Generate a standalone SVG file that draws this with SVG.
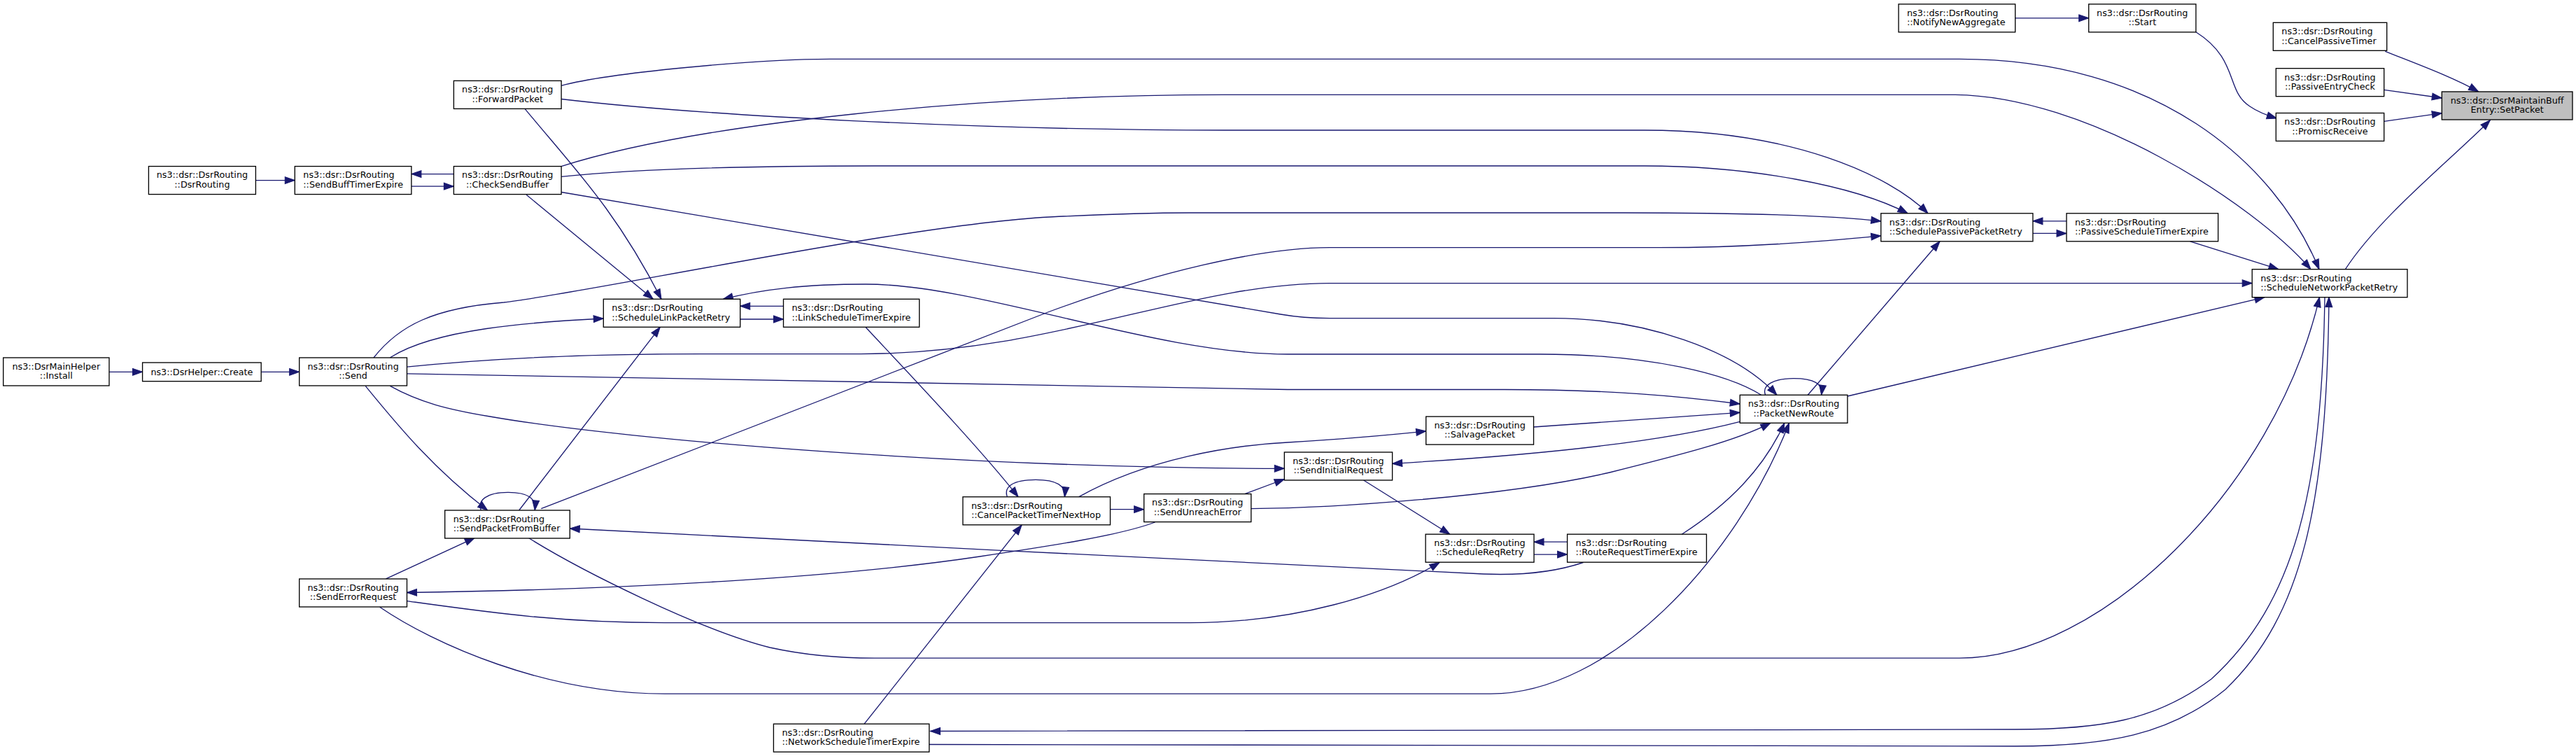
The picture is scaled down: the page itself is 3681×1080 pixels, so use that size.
<svg xmlns="http://www.w3.org/2000/svg" width="3681" height="1080" viewBox="0 0 3681 1080">
<style>
.node rect{fill:#ffffff;stroke:#000000;stroke-width:1.33}
.node.target rect{fill:#bfbfbf}
.node text{font-family:"DejaVu Sans","Liberation Sans",sans-serif;font-size:12.75px;fill:#000000}
.node text.c{text-anchor:middle}
.edge{fill:none;stroke:#191970;stroke-width:1.33;marker-end:url(#ah)}
</style>
<defs>
<marker id="ah" markerUnits="userSpaceOnUse" markerWidth="14" markerHeight="10" refX="13.3" refY="4.67" orient="auto" viewBox="0 0 13.3 9.34" overflow="visible">
<path d="M0,0 L13.3,4.67 L0,9.34 z" fill="#191970" stroke="#191970" stroke-width="1"/>
</marker>
</defs>
<rect x="0" y="0" width="3681" height="1080" fill="#ffffff"/>
<g id="edges">
<path class="edge" d="M3408.3,73.3 C3450,90 3505,110 3541.7,131"/>
<path class="edge" d="M3406.7,128.3 L3489.3,140"/>
<path class="edge" d="M3406.7,173.3 L3489.3,161.7"/>
<path class="edge" d="M3351.4,384.7 C3400,310 3500,230 3558.3,171.7"/>
<path class="edge" d="M3137.9,45.8 C3200,85 3180,130 3215,152 C3228,161 3240,165 3253.3,169"/>
<path class="edge" d="M2879.7,25.8 L2984.7,25.8"/>
<path class="edge" d="M3129.6,344.8 L3256,384.7"/>
<path class="edge" d="M2904.9,333.4 L2953,333.4"/>
<path class="edge" d="M2953,315.8 L2904.9,315.8"/>
<path class="edge" d="M802.1,122.3 C870,104 1080,84.4 1186,84.4 L2800,84.4 C3080,84.4 3250,230 3314,384.7"/>
<path class="edge" d="M802.1,237.6 C1000,175 1400,135.3 1750,135.3 L2790,135.3 C2980,135.3 3220,290 3302,384.7"/>
<path class="edge" d="M802.1,141.5 C1000,165 1400,186 1750,186 L2350,186 C2560,186 2700,250 2755,304.8"/>
<path class="edge" d="M802.1,252.4 C900,242 1050,237 1250,237 L2350,237 C2500,237 2650,265 2726,304.8"/>
<path class="edge" d="M802.1,274.5 L1830,449 C1850,452.5 1870,454.6 1900,454.6 L2220,454.6 C2350,454.6 2480,500 2539,564.3"/>
<path class="edge" d="M750,155.3 C820,240 880,300 945,427.3"/>
<path class="edge" d="M752.2,278.3 L933.3,427.3"/>
<path class="edge" d="M365.5,257.6 L421.3,257.6"/>
<path class="edge" d="M648.4,248.6 L587.9,248.6"/>
<path class="edge" d="M587.9,266.2 L648.4,266.2"/>
<path class="edge" d="M156,531.3 L203.6,531.3"/>
<path class="edge" d="M373.2,531.3 L427.7,531.3"/>
<path class="edge" d="M557.4,511 C620,470 760,460 862.3,455"/>
<path class="edge" d="M534,511 C570,465 620,440 720,432 C830,420 1300,320 1500,310 C1600,305 1650,304 1700,304 L2320,304 C2500,304 2620,308 2687.8,316"/>
<path class="edge" d="M581.5,524.2 C700,512 850,505.6 1000,505.6 L1230,505.6 C1500,505.6 1700,404.6 1900,404.6 L3218.2,404.6"/>
<path class="edge" d="M581.5,533.8 C700,538 1000,545 1840,556.5 L2150,556.5 C2300,556.5 2400,566 2486.3,577"/>
<path class="edge" d="M557.4,551.4 C600,575 640,585 700,595 C900,630 1400,669 1835.3,669.3"/>
<path class="edge" d="M522.2,551.4 C570,610 620,670 696.7,729"/>
<path class="edge" d="M687.3,729 C682,715 695,703.3 726,703.3 C755,703.3 766,712 764.3,729"/>
<path class="edge" d="M741.7,729 L943.3,467.3"/>
<path class="edge" d="M773.3,726.7 L1500,445 C1650,390 1800,353.7 1900,353.7 L2370,353.7 C2500,353.7 2600,345 2687.8,336.8"/>
<path class="edge" d="M755,768.3 C830,815 1000,900 1100,925 C1150,936 1200,940.2 1250,940.2 L2800,940.2 C3000,940.2 3250,700 3314.5,424.6"/>
<path class="edge" d="M2262.5,803.5 C2220,818 2170,822 2120,820 C2000,815 1100,770 814.3,755"/>
<path class="edge" d="M551.5,826.9 L678.3,768.3"/>
<path class="edge" d="M1650.5,746 C1600,765 1500,780 1400,795 C1200,825 900,842 581.5,846.5"/>
<path class="edge" d="M581.5,858.6 C700,875 800,889.6 950,889.6 L1700,889.6 C1850,889.6 1980,850 2057,803.5"/>
<path class="edge" d="M542.7,867.2 C620,920 780,991.2 950,991.2 L2130,991.2 C2300,991.2 2480,800 2556.7,604.3"/>
<path class="edge" d="M2403.3,763.2 C2470,720 2520,670 2550,604.3"/>
<path class="edge" d="M1057.7,456 L1119.5,456"/>
<path class="edge" d="M1119.5,437.3 L1057.7,437.3"/>
<path class="edge" d="M1236.8,467.3 C1300,535 1400,640 1455,709.8"/>
<path class="edge" d="M2516.7,564.3 C2470,535 2360,506 2200,506 L1840,506 C1650,506 1400,406 1237,406 C1150,406 1090,413 1033.3,427.3"/>
<path class="edge" d="M1439.3,709.8 C1434,695 1448,685.3 1480,685.3 C1510,685.3 1523,694 1521.4,709.8"/>
<path class="edge" d="M1235,1034.2 L1460,750.1"/>
<path class="edge" d="M1586.5,727.7 L1634.7,727.7"/>
<path class="edge" d="M1541.4,709.8 C1640,655 1760,636 1840,632 C1940,626 2000,620 2037.7,616"/>
<path class="edge" d="M1778.7,705.6 L1835.3,684.5"/>
<path class="edge" d="M1787.8,726.6 C1900,726 2150,710 2300,675 C2400,650 2480,630 2530,604.3"/>
<path class="edge" d="M2191.5,610 L2486.3,589.3"/>
<path class="edge" d="M2486.3,602.3 C2380,630 2200,650 1989.6,662.3"/>
<path class="edge" d="M1948.5,686 L2071.8,763.2"/>
<path class="edge" d="M2192,792.1 L2239.6,792.1"/>
<path class="edge" d="M2239.6,774.2 L2192,774.2"/>
<path class="edge" d="M2522.7,564.3 C2517,550 2535,540.7 2563,540.7 C2592,540.7 2605,548 2602.7,564.3"/>
<path class="edge" d="M2583.3,564.3 L2772,344.8"/>
<path class="edge" d="M2640,566 L3236,424.6"/>
<path class="edge" d="M3322,424.6 C3318,700 3280,860 3160,970 C3080,1030 3000,1042 2880,1042 L1329.5,1044.5"/>
<path class="edge" d="M1327.8,1063.5 L2880,1066 C3010,1066 3100,1050 3180,985 C3290,880 3325,720 3328,424.6"/>
</g>
<g id="n_install" class="node"><rect x="4.7" y="511" width="151.3" height="40"/><text class="c" x="80.35" y="527.8">ns3::DsrMainHelper</text><text class="c" x="80.35" y="541.2">::Install</text></g>
<g id="n_create" class="node"><rect x="203.6" y="518" width="169.6" height="26.7"/><text class="c" x="288.4" y="535.8">ns3::DsrHelper::Create</text></g>
<g id="n_dsrrouting" class="node"><rect x="212.4" y="237.6" width="153" height="40"/><text class="c" x="288.9" y="254.4">ns3::dsr::DsrRouting</text><text class="c" x="288.9" y="267.8">::DsrRouting</text></g>
<g id="n_sendbufftimerexpire" class="node"><rect x="421.3" y="237.6" width="166.6" height="40"/><text x="433.3" y="254.4">ns3::dsr::DsrRouting</text><text x="433.3" y="267.8">::SendBuffTimerExpire</text></g>
<g id="n_send" class="node"><rect x="427.7" y="511" width="153.8" height="40"/><text class="c" x="504.6" y="527.8">ns3::dsr::DsrRouting</text><text class="c" x="504.6" y="541.2">::Send</text></g>
<g id="n_senderrorrequest" class="node"><rect x="427.7" y="827" width="153.8" height="40"/><text class="c" x="504.6" y="843.8">ns3::dsr::DsrRouting</text><text class="c" x="504.6" y="857.2">::SendErrorRequest</text></g>
<g id="n_forwardpacket" class="node"><rect x="648.4" y="115.4" width="153.7" height="40"/><text class="c" x="725.25" y="132.2">ns3::dsr::DsrRouting</text><text class="c" x="725.25" y="145.6">::ForwardPacket</text></g>
<g id="n_checksendbuffer" class="node"><rect x="648.4" y="237.6" width="153.7" height="40"/><text class="c" x="725.25" y="254.4">ns3::dsr::DsrRouting</text><text class="c" x="725.25" y="267.8">::CheckSendBuffer</text></g>
<g id="n_sendpacketfrombuffer" class="node"><rect x="635.7" y="729" width="178.6" height="40"/><text x="647.7" y="745.8">ns3::dsr::DsrRouting</text><text x="647.7" y="759.2">::SendPacketFromBuffer</text></g>
<g id="n_schedulelinkpacketretry" class="node"><rect x="862.3" y="427.3" width="195.4" height="40"/><text x="874.3" y="444.1">ns3::dsr::DsrRouting</text><text x="874.3" y="457.5">::ScheduleLinkPacketRetry</text></g>
<g id="n_linkscheduletimerexpire" class="node"><rect x="1119.5" y="427.3" width="194.2" height="40"/><text x="1131.5" y="444.1">ns3::dsr::DsrRouting</text><text x="1131.5" y="457.5">::LinkScheduleTimerExpire</text></g>
<g id="n_networkscheduletimerexpire" class="node"><rect x="1105.4" y="1034.2" width="222.4" height="40"/><text x="1117.4" y="1051">ns3::dsr::DsrRouting</text><text x="1117.4" y="1064.4">::NetworkScheduleTimerExpire</text></g>
<g id="n_cancelpackettimernexthop" class="node"><rect x="1375.9" y="709.8" width="210.6" height="40"/><text x="1387.9" y="726.6">ns3::dsr::DsrRouting</text><text x="1387.9" y="740">::CancelPacketTimerNextHop</text></g>
<g id="n_sendunreacherror" class="node"><rect x="1634.7" y="705.6" width="153.1" height="40"/><text class="c" x="1711.25" y="722.4">ns3::dsr::DsrRouting</text><text class="c" x="1711.25" y="735.8">::SendUnreachError</text></g>
<g id="n_sendinitialrequest" class="node"><rect x="1835.3" y="646" width="154.3" height="40"/><text class="c" x="1912.45" y="662.8">ns3::dsr::DsrRouting</text><text class="c" x="1912.45" y="676.2">::SendInitialRequest</text></g>
<g id="n_salvagepacket" class="node"><rect x="2037.7" y="595.1" width="153.8" height="40"/><text class="c" x="2114.6" y="611.9">ns3::dsr::DsrRouting</text><text class="c" x="2114.6" y="625.3">::SalvagePacket</text></g>
<g id="n_schedulereqretry" class="node"><rect x="2037.1" y="763.2" width="154.9" height="40"/><text class="c" x="2114.55" y="780">ns3::dsr::DsrRouting</text><text class="c" x="2114.55" y="793.4">::ScheduleReqRetry</text></g>
<g id="n_routerequesttimerexpire" class="node"><rect x="2239.6" y="763.2" width="198.9" height="40"/><text x="2251.6" y="780">ns3::dsr::DsrRouting</text><text x="2251.6" y="793.4">::RouteRequestTimerExpire</text></g>
<g id="n_packetnewroute" class="node"><rect x="2486.3" y="564.3" width="153.7" height="40"/><text class="c" x="2563.15" y="581.1">ns3::dsr::DsrRouting</text><text class="c" x="2563.15" y="594.5">::PacketNewRoute</text></g>
<g id="n_schedulepassivepacketretry" class="node"><rect x="2687.8" y="304.8" width="217.1" height="40"/><text x="2699.8" y="321.6">ns3::dsr::DsrRouting</text><text x="2699.8" y="335">::SchedulePassivePacketRetry</text></g>
<g id="n_passivescheduletimerexpire" class="node"><rect x="2953" y="304.8" width="216.6" height="40"/><text x="2965" y="321.6">ns3::dsr::DsrRouting</text><text x="2965" y="335">::PassiveScheduleTimerExpire</text></g>
<g id="n_schedulenetworkpacketretry" class="node"><rect x="3218.2" y="384.7" width="221.8" height="40"/><text x="3230.2" y="401.5">ns3::dsr::DsrRouting</text><text x="3230.2" y="414.9">::ScheduleNetworkPacketRetry</text></g>
<g id="n_notifynewaggregate" class="node"><rect x="2713" y="5.9" width="166.7" height="40"/><text x="2725" y="22.7">ns3::dsr::DsrRouting</text><text x="2725" y="36.1">::NotifyNewAggregate</text></g>
<g id="n_start" class="node"><rect x="2984.7" y="5.9" width="153.2" height="40"/><text class="c" x="3061.3" y="22.7">ns3::dsr::DsrRouting</text><text class="c" x="3061.3" y="36.1">::Start</text></g>
<g id="n_cancelpassivetimer" class="node"><rect x="3248.3" y="32.3" width="162.4" height="40"/><text x="3260.3" y="49.1">ns3::dsr::DsrRouting</text><text x="3260.3" y="62.5">::CancelPassiveTimer</text></g>
<g id="n_passiveentrycheck" class="node"><rect x="3252.3" y="97.7" width="154.4" height="40"/><text class="c" x="3329.5" y="114.5">ns3::dsr::DsrRouting</text><text class="c" x="3329.5" y="127.9">::PassiveEntryCheck</text></g>
<g id="n_promiscreceive" class="node"><rect x="3252.3" y="161.5" width="154.4" height="40"/><text class="c" x="3329.5" y="178.3">ns3::dsr::DsrRouting</text><text class="c" x="3329.5" y="191.7">::PromiscReceive</text></g>
<g id="n_setpacket" class="node target"><rect x="3489.3" y="131" width="186.7" height="40"/><text class="c" x="3582.65" y="147.8">ns3::dsr::DsrMaintainBuff</text><text class="c" x="3582.65" y="161.2">Entry::SetPacket</text></g>
</svg>
